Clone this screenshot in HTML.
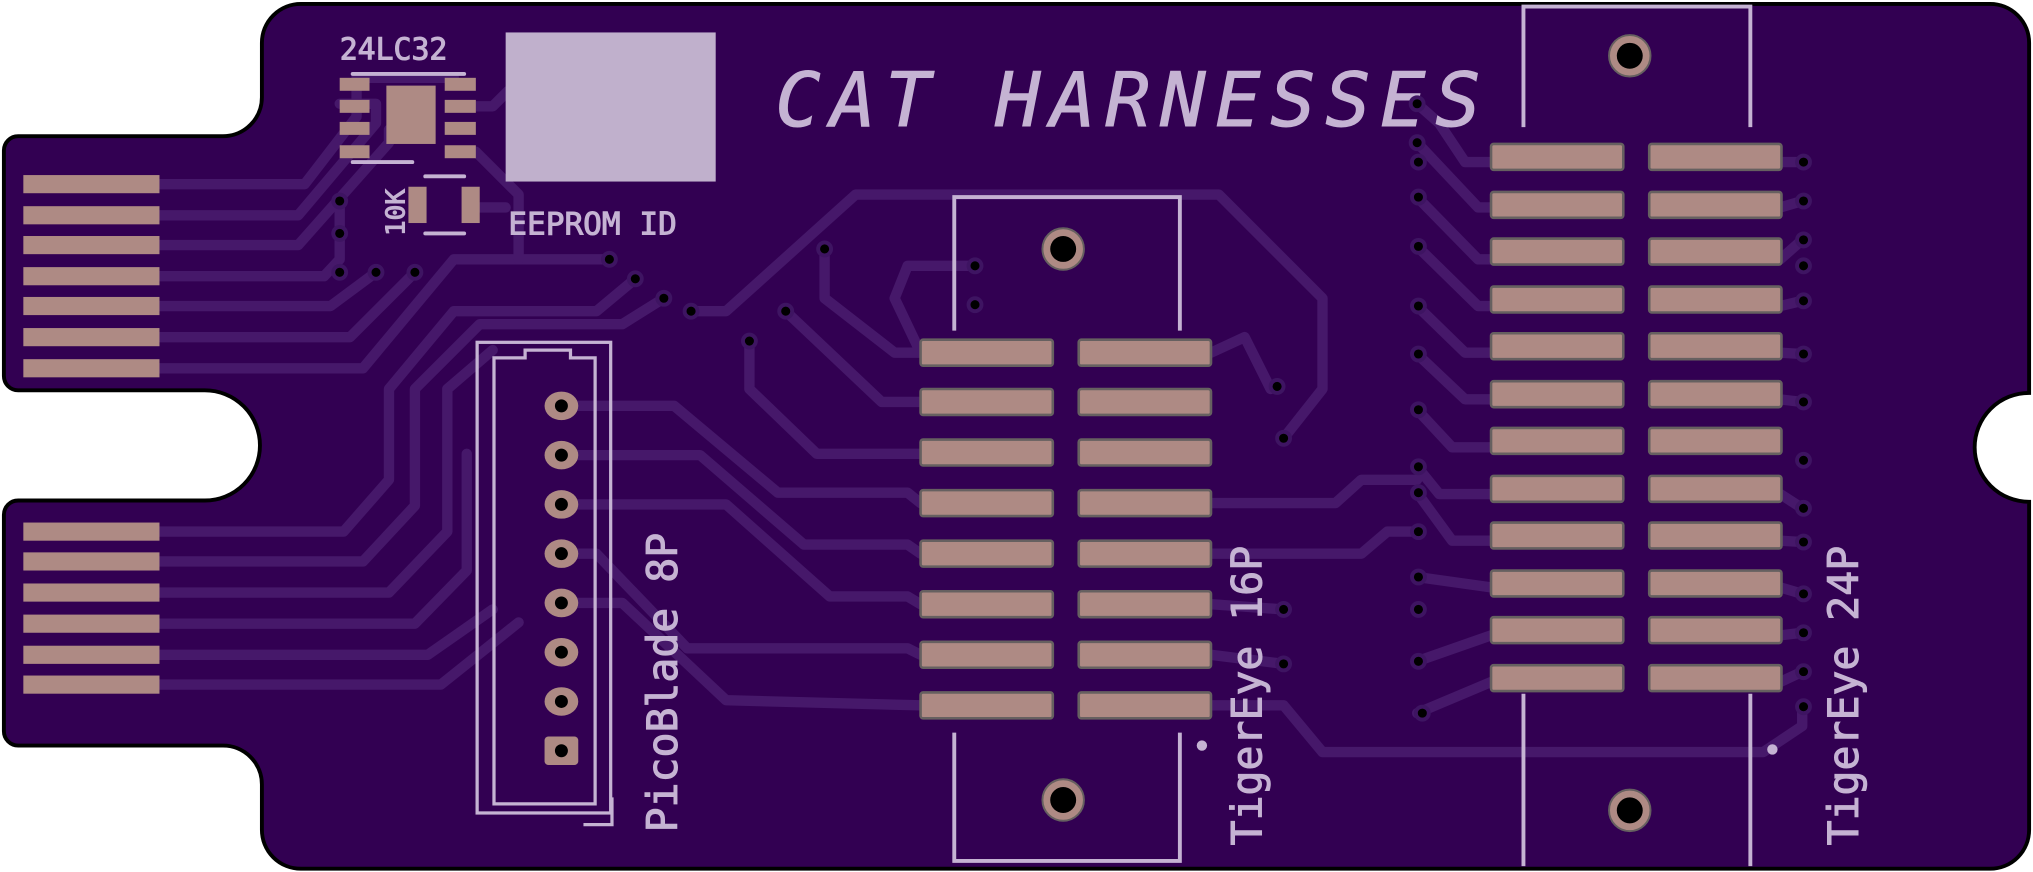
<!DOCTYPE html>
<html><head><meta charset="utf-8"><style>
html,body{margin:0;padding:0;background:#fff;}
svg{display:block;}
text{font-family:"DejaVu Sans Mono","Liberation Mono",monospace;fill:#c5b3d3;stroke:#c5b3d3;stroke-width:0.8;}
</style></head><body>
<svg width="2033" height="872" viewBox="0 0 1568 672.5" xmlns="http://www.w3.org/2000/svg">
<path d="M232 3 H1535 A30 30 0 0 1 1565 33 V303 A42 42 0 0 0 1565 387 V640 A30 30 0 0 1 1535 670 H232 A30 30 0 0 1 202 640 V605 A30 30 0 0 0 172 575 H14 A11 11 0 0 1 3 564 V397 A11 11 0 0 1 14 386 H158 A42 42 0 0 0 158 301 H14 A11 11 0 0 1 3 290 V116 A11 11 0 0 1 14 105 H172 A30 30 0 0 0 202 75 V33 A30 30 0 0 1 232 3 Z" fill="#320052" stroke="#000" stroke-width="3"/>
<g fill="none" stroke="#46186a" stroke-width="8" stroke-linejoin="round" stroke-linecap="round">
<polyline points="123,142 235,142 275,90 275,60 350,60"/>
<polyline points="123,166 230,166 290,95 290,80 262,80"/>
<polyline points="123,189 230,189 300,110 300,100"/>
<polyline points="123,213 250,213 262,200 262,155"/>
<polyline points="123,236 255,236 290,210"/>
<polyline points="123,260 270,260 320,210"/>
<polyline points="123,284 280,284 350,200 440,200 470,200"/>
<polyline points="123,410 265,410 300,370 300,300 350,240 460,240 490,215"/>
<polyline points="123,433 280,433 320,390 320,300 370,250 480,250 512,230"/>
<polyline points="123,457 300,457 345,410 345,300 380,270"/>
<polyline points="123,481 320,481 360,440 360,350"/>
<polyline points="123,505 330,505 380,470"/>
<polyline points="123,528 340,528 400,480"/>
<polyline points="367,82 380,82 392,70"/>
<polyline points="367,117 400,150 400,200"/>
<polyline points="370,160 390,160"/>
<polyline points="433,313 520,313 600,380 700,380 710,388"/>
<polyline points="433,351 540,351 620,420 700,420 710,427"/>
<polyline points="433,389 560,389 640,460 700,460 710,466"/>
<polyline points="433,427 460,427 530,500 700,500 710,505"/>
<polyline points="433,465 480,465 560,540 710,544"/>
<polyline points="533,240 560,240 660,150 940,150 1020,230 1020,300 990,338"/>
<polyline points="578,263 578,300 630,350 710,350"/>
<polyline points="606,240 680,310 710,310"/>
<polyline points="636,192 636,230 690,272 710,272"/>
<polyline points="752,205 700,205 690,230 710,272"/>
<polyline points="934,272 960,260 980,300"/>
<polyline points="934,388 1030,388 1050,370 1093,370"/>
<polyline points="934,427 1050,427 1070,410 1093,410"/>
<polyline points="934,466 990,470"/>
<polyline points="934,505 990,512"/>
<polyline points="934,544 990,544 1020,580 1360,580 1390,560 1390,545"/>
<polyline points="1093,80 1110,95 1130,125 1150,125"/>
<polyline points="1093,110 1140,160 1150,160"/>
<polyline points="1093,152 1140,200 1150,200"/>
<polyline points="1093,190 1140,236 1150,236"/>
<polyline points="1093,236 1130,272 1150,272"/>
<polyline points="1093,273 1130,308 1150,308"/>
<polyline points="1093,316 1120,345 1150,345"/>
<polyline points="1093,360 1110,381 1150,381"/>
<polyline points="1093,380 1120,417 1150,417"/>
<polyline points="1093,445 1150,453"/>
<polyline points="1093,510 1150,490"/>
<polyline points="1093,550 1150,526"/>
<polyline points="1373,125 1390,125"/><polyline points="1373,160 1390,155"/><polyline points="1373,200 1390,185"/>
<polyline points="1373,236 1390,232"/><polyline points="1373,272 1390,273"/><polyline points="1373,308 1390,310"/>
<polyline points="1373,381 1390,392"/><polyline points="1373,417 1390,418"/><polyline points="1373,453 1390,458"/>
<polyline points="1373,490 1390,488"/><polyline points="1373,526 1390,518"/>
</g>
<g fill="#ae8a84">
<rect x="18" y="135" width="105" height="14"/><rect x="18" y="159" width="105" height="14"/><rect x="18" y="182" width="105" height="14"/><rect x="18" y="206" width="105" height="14"/><rect x="18" y="229" width="105" height="14"/><rect x="18" y="253" width="105" height="14"/><rect x="18" y="277" width="105" height="14"/>
<rect x="18" y="403" width="105" height="14"/><rect x="18" y="426" width="105" height="14"/><rect x="18" y="450" width="105" height="14"/><rect x="18" y="474" width="105" height="14"/><rect x="18" y="498" width="105" height="14"/><rect x="18" y="521" width="105" height="14"/>
<rect x="262" y="60" width="23" height="10"/><rect x="262" y="77" width="23" height="10"/><rect x="262" y="94" width="23" height="10"/><rect x="262" y="112" width="23" height="10"/>
<rect x="343" y="60" width="24" height="10"/><rect x="343" y="77" width="24" height="10"/><rect x="343" y="94" width="24" height="10"/><rect x="343" y="112" width="24" height="10"/>
<rect x="298" y="66" width="38" height="45"/>
<rect x="315" y="144" width="14" height="28"/><rect x="356" y="144" width="14" height="28"/>
</g>
<g stroke="#c5b3d3" stroke-width="3" stroke-linecap="round" fill="none">
<line x1="272" y1="57" x2="358" y2="57"/><line x1="272" y1="125" x2="318" y2="125"/>
<line x1="328" y1="136" x2="358" y2="136"/><line x1="328" y1="180" x2="358" y2="180"/>
</g>
<text x="262" y="46" font-size="23">24LC32</text>
<text transform="translate(312,182) rotate(-90)" font-size="20">10K</text>
<rect x="390" y="25" width="162" height="115" fill="#c0b0cc"/>
<text x="392" y="181" font-size="24">EEPROM ID</text>
<text x="598" y="97" font-size="58" font-style="italic" stroke-width="2.5" letter-spacing="7.5">CAT HARNESSES</text>
<g fill="none" stroke="#c5b3d3" stroke-width="2.5">
<rect x="368" y="264" width="103" height="363"/>
<path d="M381 620 V276 H405 V270 H440 V276 H459 V620 Z"/>
<path d="M450 636 H472 V615"/>
</g>
<g fill="#ae8a84">
<ellipse cx="433" cy="313" rx="13" ry="11"/><ellipse cx="433" cy="351" rx="13" ry="11"/><ellipse cx="433" cy="389" rx="13" ry="11"/><ellipse cx="433" cy="427" rx="13" ry="11"/><ellipse cx="433" cy="465" rx="13" ry="11"/><ellipse cx="433" cy="503" rx="13" ry="11"/><ellipse cx="433" cy="541" rx="13" ry="11"/><rect x="420" y="568" width="26" height="22" rx="3"/>
</g>
<g fill="#000"><circle cx="433" cy="313" r="5"/><circle cx="433" cy="351" r="5"/><circle cx="433" cy="389" r="5"/><circle cx="433" cy="427" r="5"/><circle cx="433" cy="465" r="5"/><circle cx="433" cy="503" r="5"/><circle cx="433" cy="541" r="5"/><circle cx="433" cy="579" r="5"/></g>
<text transform="translate(522,642) rotate(-90)" font-size="32">PicoBlade 8P</text>
<g fill="none" stroke="#c5b3d3" stroke-width="3"><path d="M736 255 V152 H910 V255"/><path d="M736 565 V664 H910 V565"/></g>
<g fill="#ae8a84" stroke="#666060" stroke-width="2">
<rect x="710" y="262" width="102" height="20" rx="2"/><rect x="832" y="262" width="102" height="20" rx="2"/>
<rect x="710" y="300" width="102" height="20" rx="2"/><rect x="832" y="300" width="102" height="20" rx="2"/>
<rect x="710" y="339" width="102" height="20" rx="2"/><rect x="832" y="339" width="102" height="20" rx="2"/>
<rect x="710" y="378" width="102" height="20" rx="2"/><rect x="832" y="378" width="102" height="20" rx="2"/>
<rect x="710" y="417" width="102" height="20" rx="2"/><rect x="832" y="417" width="102" height="20" rx="2"/>
<rect x="710" y="456" width="102" height="20" rx="2"/><rect x="832" y="456" width="102" height="20" rx="2"/>
<rect x="710" y="495" width="102" height="20" rx="2"/><rect x="832" y="495" width="102" height="20" rx="2"/>
<rect x="710" y="534" width="102" height="20" rx="2"/><rect x="832" y="534" width="102" height="20" rx="2"/>
</g>
<text transform="translate(973,652) rotate(-90)" font-size="32">TigerEye 16P</text>
<circle cx="927" cy="575" r="4" fill="#c5b3d3"/>
<g fill="none" stroke="#c5b3d3" stroke-width="3"><path d="M1175 98 V5 H1350 V98"/><path d="M1175 535 V668"/><path d="M1350 535 V668"/></g>
<g fill="#ae8a84" stroke="#666060" stroke-width="2">
<rect x="1150" y="111" width="102" height="20" rx="2"/><rect x="1272" y="111" width="102" height="20" rx="2"/>
<rect x="1150" y="148" width="102" height="20" rx="2"/><rect x="1272" y="148" width="102" height="20" rx="2"/>
<rect x="1150" y="184" width="102" height="20" rx="2"/><rect x="1272" y="184" width="102" height="20" rx="2"/>
<rect x="1150" y="221" width="102" height="20" rx="2"/><rect x="1272" y="221" width="102" height="20" rx="2"/>
<rect x="1150" y="257" width="102" height="20" rx="2"/><rect x="1272" y="257" width="102" height="20" rx="2"/>
<rect x="1150" y="294" width="102" height="20" rx="2"/><rect x="1272" y="294" width="102" height="20" rx="2"/>
<rect x="1150" y="330" width="102" height="20" rx="2"/><rect x="1272" y="330" width="102" height="20" rx="2"/>
<rect x="1150" y="367" width="102" height="20" rx="2"/><rect x="1272" y="367" width="102" height="20" rx="2"/>
<rect x="1150" y="403" width="102" height="20" rx="2"/><rect x="1272" y="403" width="102" height="20" rx="2"/>
<rect x="1150" y="440" width="102" height="20" rx="2"/><rect x="1272" y="440" width="102" height="20" rx="2"/>
<rect x="1150" y="476" width="102" height="20" rx="2"/><rect x="1272" y="476" width="102" height="20" rx="2"/>
<rect x="1150" y="513" width="102" height="20" rx="2"/><rect x="1272" y="513" width="102" height="20" rx="2"/>
</g>
<text transform="translate(1433,652) rotate(-90)" font-size="32">TigerEye 24P</text>
<circle cx="1367" cy="578" r="4" fill="#c5b3d3"/>
<g fill="#ae8a84" stroke="#666060" stroke-width="1.5"><circle cx="820" cy="192" r="16"/><circle cx="820" cy="617" r="16"/><circle cx="1257" cy="43" r="16"/><circle cx="1257" cy="625" r="16"/></g>
<g fill="#000"><circle cx="820" cy="192" r="10"/><circle cx="820" cy="617" r="10"/><circle cx="1257" cy="43" r="10"/><circle cx="1257" cy="625" r="10"/></g>
<g fill="#000" stroke="#3e1462" stroke-width="3">
<circle cx="262" cy="155" r="5"/><circle cx="262" cy="180" r="5"/><circle cx="262" cy="210" r="5"/><circle cx="290" cy="210" r="5"/><circle cx="320" cy="210" r="5"/>
<circle cx="470" cy="200" r="5"/><circle cx="490" cy="215" r="5"/><circle cx="512" cy="230" r="5"/><circle cx="533" cy="240" r="5"/><circle cx="578" cy="263" r="5"/><circle cx="606" cy="240" r="5"/><circle cx="636" cy="192" r="5"/>
<circle cx="752" cy="205" r="5"/><circle cx="752" cy="235" r="5"/><circle cx="985" cy="298" r="5"/><circle cx="990" cy="338" r="5"/><circle cx="990" cy="470" r="5"/><circle cx="990" cy="512" r="5"/>
<circle cx="1093" cy="80" r="5"/><circle cx="1093" cy="110" r="5"/><circle cx="1094" cy="125" r="5"/><circle cx="1094" cy="152" r="5"/><circle cx="1094" cy="190" r="5"/><circle cx="1094" cy="236" r="5"/><circle cx="1094" cy="273" r="5"/><circle cx="1094" cy="316" r="5"/><circle cx="1094" cy="360" r="5"/><circle cx="1094" cy="380" r="5"/><circle cx="1094" cy="410" r="5"/><circle cx="1094" cy="445" r="5"/><circle cx="1094" cy="470" r="5"/><circle cx="1094" cy="510" r="5"/><circle cx="1097" cy="550" r="5"/>
<circle cx="1391" cy="125" r="5"/><circle cx="1391" cy="155" r="5"/><circle cx="1391" cy="185" r="5"/><circle cx="1391" cy="205" r="5"/><circle cx="1391" cy="232" r="5"/><circle cx="1391" cy="273" r="5"/><circle cx="1391" cy="310" r="5"/><circle cx="1391" cy="355" r="5"/><circle cx="1391" cy="392" r="5"/><circle cx="1391" cy="418" r="5"/><circle cx="1391" cy="458" r="5"/><circle cx="1391" cy="488" r="5"/><circle cx="1391" cy="518" r="5"/><circle cx="1391" cy="545" r="5"/>
</g>
</svg>
</body></html>
